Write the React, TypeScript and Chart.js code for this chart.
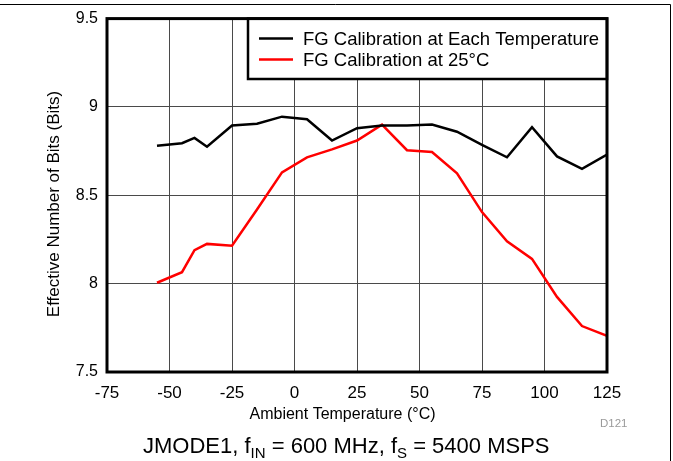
import React, { useEffect, useRef } from 'react';
import { Chart, registerables } from 'chart.js';

Chart.register(...registerables);

// ---- data ----
const temperatures = [-55, -45, -40, -35, -25, -15, -5, 5, 15, 25, 35, 45, 55, 65, 75, 85, 95, 105, 115, 125];
const enobEachTemp = [8.78, 8.795, 8.825, 8.775, 8.895, 8.905, 8.945, 8.93, 8.81, 8.88, 8.895, 8.895, 8.9, 8.86, 8.785, 8.715, 8.885, 8.72, 8.65, 8.73];
const enobAt25C = [8.005, 8.065, 8.19, 8.225, 8.215, 8.42, 8.63, 8.715, 8.76, 8.81, 8.9, 8.755, 8.745, 8.625, 8.405, 8.24, 8.14, 7.925, 7.76, 7.705];
const xTickValues = [-75, -50, -25, 0, 25, 50, 75, 100, 125];
const yTickValues = [7.5, 8, 8.5, 9, 9.5];
const seriesLabels = ['FG Calibration at Each Temperature', 'FG Calibration at 25°C'];
const seriesColors = ['#000000', '#ff0000'];
const xTitle = 'Ambient Temperature (°C)';
const yTitle = 'Effective Number of Bits (Bits)';
const figureId = 'D121';
const captionParts: [string, boolean][] = [
  ['JMODE1, f', false],
  ['IN', true],
  [' = 600 MHz, f', false],
  ['S', true],
  [' = 5400 MSPS', false],
];

const FONT = '"Liberation Sans", Arial, Helvetica, sans-serif';

const decorPlugin = {
  id: 'decor',
  afterDraw(chart: any) {
    const { ctx, chartArea: a } = chart;
    ctx.save();

    // outer frame (top + right)
    ctx.strokeStyle = '#000';
    ctx.lineWidth = 1;
    ctx.beginPath();
    ctx.moveTo(0, 4.5);
    ctx.lineTo(670.5, 4.5);
    ctx.lineTo(670.5, 461);
    ctx.stroke();

    // legend box
    const lx = 248, ly = a.top, lr = a.right, lb = 79;
    ctx.fillStyle = '#fff';
    ctx.fillRect(lx, ly, lr - lx, lb - ly);
    ctx.lineWidth = 2.5;
    ctx.strokeStyle = '#000';
    ctx.strokeRect(lx, ly, lr - lx, lb - ly);
    ctx.font = `18.5px ${FONT}`;
    ctx.textBaseline = 'middle';
    ctx.textAlign = 'left';
    chart.data.datasets.forEach((ds: any, i: number) => {
      const y = 38.5 + i * 21;
      ctx.strokeStyle = ds.borderColor;
      ctx.lineWidth = 2.5;
      ctx.beginPath();
      ctx.moveTo(259, y);
      ctx.lineTo(293, y);
      ctx.stroke();
      ctx.fillStyle = '#000';
      ctx.fillText(ds.label, 303, y + 1);
    });

    // plot frame
    ctx.strokeStyle = '#000';
    ctx.lineWidth = 3;
    ctx.strokeRect(a.left, a.top, a.right - a.left, a.bottom - a.top);

    // axis titles
    ctx.fillStyle = '#000';
    ctx.font = `16px ${FONT}`;
    ctx.textAlign = 'center';
    ctx.textBaseline = 'alphabetic';
    ctx.fillText(xTitle, 342.5, 419);

    ctx.save();
    ctx.translate(59, 204);
    ctx.rotate(-Math.PI / 2);
    ctx.font = `17px ${FONT}`;
    ctx.fillText(yTitle, 0, 0);
    ctx.restore();

    // figure id
    ctx.font = `11.5px ${FONT}`;
    ctx.fillStyle = '#9a9a9a';
    ctx.textAlign = 'left';
    ctx.fillText(figureId, 600, 427);

    // caption with subscripts
    let x = 143;
    const base = 452.5;
    ctx.fillStyle = '#000';
    captionParts.forEach(([t, sub]) => {
      ctx.font = sub ? `15px ${FONT}` : `22px ${FONT}`;
      ctx.fillText(t, x, sub ? base + 5 : base);
      x += ctx.measureText(t).width;
    });

    ctx.restore();
  },
};

export default function App() {
  const ref = useRef<HTMLCanvasElement | null>(null);

  useEffect(() => {
    if (!ref.current) return;
    const chart = new Chart(ref.current, {
      type: 'line',
      data: {
        datasets: [enobEachTemp, enobAt25C].map((vals, i) => ({
          label: seriesLabels[i],
          data: temperatures.map((t, j) => ({ x: t, y: vals[j] })),
          borderColor: seriesColors[i],
          backgroundColor: seriesColors[i],
          borderWidth: 2.5,
          pointRadius: 0,
          tension: 0,
        })),
      },
      options: {
        responsive: false,
        animation: false,
        devicePixelRatio: 1,
        layout: { padding: { top: 17, right: 66, left: 0, bottom: 0 } },
        plugins: { legend: { display: false }, tooltip: { enabled: false } },
        scales: {
          x: {
            type: 'linear',
            min: -75,
            max: 125,
            afterBuildTicks: (s: any) => { s.ticks = xTickValues.map((v) => ({ value: v })); },
            afterFit: (s: any) => { s.height = 89; },
            grid: { color: '#4a4a4a', lineWidth: 1, drawTicks: false },
            border: { display: false },
            ticks: { color: '#000', font: { size: 17, family: FONT }, padding: 11, maxRotation: 0, callback: (v: any) => String(v) },
          },
          y: {
            type: 'linear',
            min: 7.5,
            max: 9.5,
            afterBuildTicks: (s: any) => { s.ticks = yTickValues.map((v) => ({ value: v })); },
            afterFit: (s: any) => { s.width = 107; },
            grid: { color: '#4a4a4a', lineWidth: 1, drawTicks: false },
            border: { display: false },
            ticks: { color: '#000', font: { size: 16, family: FONT }, padding: 9, callback: (v: any) => String(v) },
          },
        },
      },
      plugins: [decorPlugin],
    } as any);
    return () => chart.destroy();
  }, []);

  return (
    <div style={{ position: 'absolute', left: 0, top: 0, width: 673, height: 461, background: '#fff' }}>
      <canvas ref={ref} width={673} height={461} style={{ display: 'block' }} />
    </div>
  );
}
